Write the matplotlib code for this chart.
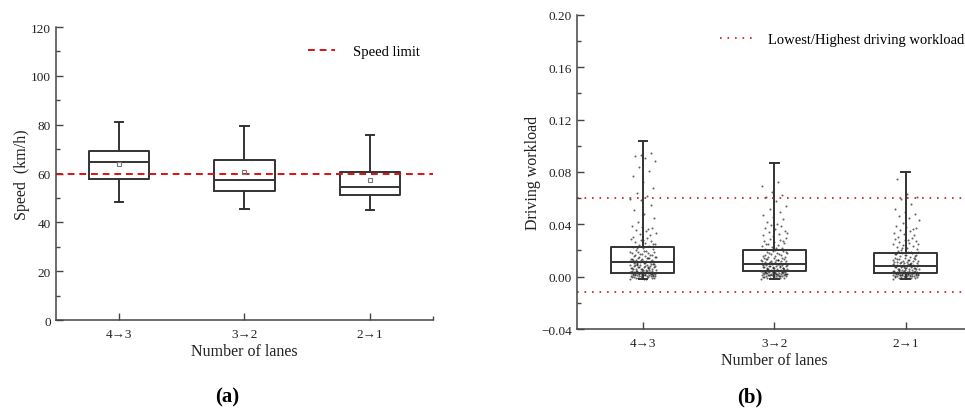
import numpy as np
import matplotlib.pyplot as plt
from matplotlib.ticker import MultipleLocator, FixedLocator

plt.rcParams['font.family'] = ['Liberation Serif', 'DejaVu Serif']

# ---- data ----
lanes = ['4\u21923', '3\u21922', '2\u21921']

# panel (a): speed box statistics (km/h)
speed_low = [48.5, 45.6, 45.0]
speed_q1 = [57.9, 52.8, 51.2]
speed_med = [64.6, 57.3, 54.5]
speed_q3 = [69.2, 65.6, 60.5]
speed_high = [81.2, 79.6, 75.9]
speed_mean = [64.0, 60.5, 57.2]
speed_limit = 60

# panel (b): driving workload box statistics
load_low = [-0.002, -0.002, -0.002]
load_q1 = [0.0030, 0.0040, 0.0025]
load_med = [0.0111, 0.0096, 0.0079]
load_q3 = [0.0224, 0.0203, 0.0178]
load_high = [0.1038, 0.0865, 0.0799]
load_limits = [0.060, -0.012]

# individual workload samples, in thousandths
samples_43 = [-1.8, -1.5, -1.2, -0.9, -0.6, -0.4, -0.2, -1.1, -0.7, -1.6,
              0.1, 0.3, 0.4, 0.6, 0.8, 0.9, 1.1, 1.2, 1.4, 1.5, 1.7, 1.8, 2.0, 2.1, 2.3,
              2.4, 2.6, 2.7, 2.9, 3.0, 3.2, 3.3, 3.5, 3.6, 3.8, 3.9, 4.1, 4.2, 4.4, 4.6,
              4.8, 0.2, 0.5, 1.0, 1.6, 2.2, 2.8, 3.4, 4.0, 4.5, 0.7, 1.3, 1.9, 2.5, 3.1,
              5.0, 5.3, 5.6, 5.9, 6.2, 6.5, 6.8, 7.1, 7.4, 7.7, 8.0, 8.3, 8.6, 8.9, 9.2,
              9.5, 9.8, 5.4, 6.0, 6.6, 7.2, 7.8, 8.4, 9.0, 9.6, 5.7, 6.3, 7.5, 8.7, 9.9,
              10.1, 10.5, 10.9, 11.3, 11.7, 12.1, 12.5, 12.9, 13.3, 13.7, 14.1, 14.5,
              14.9, 10.3, 11.0, 11.8, 12.6, 13.4, 14.2, 10.7, 11.5, 12.3, 13.1, 13.9, 14.7,
              15.2, 15.7, 16.2, 16.7, 17.2, 17.7, 18.2, 18.7, 19.2, 19.7, 15.5, 16.5,
              17.5, 18.5, 19.5,
              20.3, 21.0, 21.8, 22.5, 23.2, 24.0, 24.8, 25.6, 26.4, 27.2, 28.0, 28.9,
              29.6, 22.0, 25.0, 27.8,
              30.5, 31.5, 32.6, 33.7, 34.8, 35.9, 37.0, 38.1, 39.0, 36.5,
              42.0, 44.5, 47.8, 51.0, 54.6, 58.2, 59.5,
              61.5, 64.0, 67.5, 72.0, 76.5, 80.5, 84.0, 88.0, 90.5, 92.0, 94.5, 93.0]
samples_32 = [-1.8, -1.4, -1.0, -0.7, -0.4, -0.2, -1.2, -0.9,
              0.2, 0.4, 0.5, 0.7, 0.9, 1.0, 1.2, 1.3, 1.5, 1.6, 1.8, 1.9, 2.1, 2.2, 2.4,
              2.5, 2.7, 2.8, 3.0, 3.1, 3.3, 3.4, 3.6, 3.7, 3.9, 4.0, 4.2, 4.3, 4.5, 4.7,
              4.9, 0.1, 0.6, 1.1, 1.7, 2.3, 2.9, 3.5, 4.1, 4.6, 0.8, 1.4, 2.0, 2.6, 3.2,
              5.1, 5.4, 5.7, 6.0, 6.3, 6.6, 6.9, 7.2, 7.5, 7.8, 8.1, 8.4, 8.7, 9.0, 9.3,
              9.6, 9.9, 5.5, 6.1, 6.7, 7.3, 7.9, 8.5, 9.1, 9.7, 5.8, 6.4, 7.6, 8.8, 9.4,
              10.2, 10.6, 11.0, 11.4, 11.8, 12.2, 12.6, 13.0, 13.4, 13.8, 14.2, 14.6,
              10.4, 11.2, 12.0, 12.8, 13.6, 14.4, 10.8, 11.6, 12.4, 14.8,
              15.3, 15.8, 16.3, 16.8, 17.3, 17.8, 18.3, 18.8, 19.3, 19.8, 16.0, 17.0,
              18.0, 19.0,
              20.5, 21.2, 22.0, 22.7, 23.4, 24.2, 25.0, 25.8, 26.6, 27.4, 28.2, 29.0,
              29.8, 21.6, 24.6, 27.0,
              30.8, 31.8, 32.9, 34.0, 35.1, 36.2, 37.3, 38.4, 39.5, 33.0,
              40.5, 42.0, 43.8, 45.5, 47.0, 49.5, 52.0, 54.0,
              58.0, 61.0, 62.5, 65.0, 69.5, 72.0]
samples_21 = [-1.7, -1.4, -1.1, -0.8, -0.5, -0.3, -1.3, -0.6,
              0.1, 0.3, 0.4, 0.6, 0.8, 0.9, 1.1, 1.2, 1.4, 1.5, 1.7, 1.8, 2.0, 2.1, 2.3,
              2.4, 2.6, 2.7, 2.9, 3.0, 3.2, 3.3, 3.5, 3.6, 3.8, 3.9, 4.1, 4.2, 4.4, 4.6,
              4.8, 0.2, 0.5, 1.0, 1.6, 2.2, 2.8, 3.4, 4.0, 4.5, 0.7, 1.3, 1.9, 2.5, 3.1,
              5.0, 5.3, 5.6, 5.9, 6.2, 6.5, 6.8, 7.1, 7.4, 7.7, 8.0, 8.3, 8.6, 8.9, 9.2,
              9.5, 9.8, 5.4, 6.0, 6.6, 7.2, 7.8, 8.4, 9.0, 9.6, 5.7, 6.3, 7.5, 8.7, 9.9,
              10.1, 10.5, 10.9, 11.3, 11.7, 12.1, 12.5, 12.9, 13.3, 13.7, 14.1, 14.5,
              10.3, 11.0, 11.8, 12.6, 13.4, 14.2, 10.7, 11.5,
              15.2, 15.7, 16.2, 16.7, 17.2, 17.7, 18.2, 18.7, 19.2, 19.7, 15.5, 16.5,
              17.5, 18.5,
              20.3, 21.0, 21.8, 22.5, 23.2, 24.0, 24.8, 25.6, 26.4, 27.2, 28.0, 28.9,
              29.6, 22.0, 25.0, 27.8,
              30.5, 31.5, 32.6, 33.7, 34.8, 35.9, 37.0, 38.1, 39.0, 36.5,
              41.0, 43.0, 44.5, 46.0, 48.0, 49.5,
              52.0, 55.5, 59.0, 61.0, 63.0, 74.5]
load_samples = [samples_43, samples_32, samples_21]


def box_stats(low, q1, med, q3, high, mean=None):
    stats = []
    for i in range(len(low)):
        d = dict(whislo=low[i], q1=q1[i], med=med[i], q3=q3[i], whishi=high[i], fliers=[])
        d['mean'] = mean[i] if mean is not None else med[i]
        stats.append(d)
    return stats


line_col = '#333333'
box_kw = dict(widths=0.48, capwidths=0.065, patch_artist=False,
              boxprops=dict(color=line_col, lw=1.4),
              whiskerprops=dict(color=line_col, lw=1.4),
              capprops=dict(color=line_col, lw=1.4),
              medianprops=dict(color=line_col, lw=1.4))


def style_axes(ax):
    ax.spines['top'].set_visible(False)
    ax.spines['right'].set_visible(False)
    for s in ('left', 'bottom'):
        ax.spines[s].set_color('#444444')
        ax.spines[s].set_linewidth(1.1)
    ax.tick_params(which='both', direction='in', colors='#444444', labelcolor='#222222',
                   labelsize=9.5, width=1.0)
    ax.tick_params(which='major', length=5)
    ax.tick_params(which='minor', length=3)
    ax.tick_params(axis='x', pad=6)
    ax.set_xlim(0.5, 3.5)
    ax.set_xticks([1, 2, 3])
    ax.set_xticklabels(lanes)
    ax.xaxis.set_minor_locator(FixedLocator([3.5]))
    ax.set_xlabel('Number of lanes', fontsize=11.5, color='#222222', labelpad=2)


fig = plt.figure(figsize=(9.65, 4.10), dpi=100)

# ---- (a) speed ----
ax1 = fig.add_axes([0.058, 0.217, 0.3907, 0.7146])
ax1.bxp(box_stats(speed_low, speed_q1, speed_med, speed_q3, speed_high, speed_mean),
        positions=[1, 2, 3], showmeans=True,
        meanprops=dict(marker='s', markersize=3.5, markerfacecolor='none',
                       markeredgecolor='#777777', markeredgewidth=0.8),
        **box_kw)
ax1.axhline(speed_limit, color='#e01010', lw=1.4, dashes=(3.5, 2.5), label='Speed limit')
ax1.set_ylim(0, 120)
ax1.yaxis.set_major_locator(MultipleLocator(20))
ax1.yaxis.set_minor_locator(MultipleLocator(10))
style_axes(ax1)
ax1.set_ylabel('Speed  (km/h)', fontsize=11.5, color='#222222', labelpad=1)
ax1.legend(loc='upper right', bbox_to_anchor=(1.0, 0.985), frameon=False, fontsize=10.5,
           handlelength=1.9, handletextpad=1.2)

# ---- (b) driving workload ----
ax2 = fig.add_axes([0.598, 0.195, 0.4087, 0.7666])
for i, vals in enumerate(load_samples):
    n = len(vals)
    jitter = ((np.arange(n) * 0.618034) % 1 - 0.5) * 0.2
    ax2.scatter(i + 1 + jitter, np.array(vals) / 1000.0, s=2.2, color='black',
                alpha=0.6, linewidths=0, zorder=1)
ax2.bxp(box_stats(load_low, load_q1, load_med, load_q3, load_high),
        positions=[1, 2, 3], showmeans=False, **box_kw)
ax2.axhline(load_limits[0], color='#c81818', lw=1.2, ls=(0, (1, 3.5)),
            label='Lowest/Highest driving workload')
ax2.axhline(load_limits[1], color='#c81818', lw=1.2, ls=(0, (1, 3.5)))
ax2.set_ylim(-0.04, 0.20)
ax2.yaxis.set_major_locator(MultipleLocator(0.04))
ax2.yaxis.set_minor_locator(MultipleLocator(0.02))
ax2.yaxis.set_major_formatter(plt.FuncFormatter(
    lambda v, p: ('\u2212%.2f' % abs(v)) if v < -1e-9 else '%.2f' % abs(v)))
style_axes(ax2)
ax2.set_ylabel('Driving workload', fontsize=11.5, color='#222222', labelpad=0)
ax2.legend(loc='upper left', bbox_to_anchor=(0.33, 0.985), frameon=False, fontsize=10.5,
           handlelength=2.3, handletextpad=1.0)

# panel letters
fig.text(0.235, 0.03, '(a)', fontsize=15, fontweight='bold', ha='center', va='center')
fig.text(0.777, 0.03, '(b)', fontsize=15, fontweight='bold', ha='center', va='center')

fig.savefig('out.png', dpi=100)
